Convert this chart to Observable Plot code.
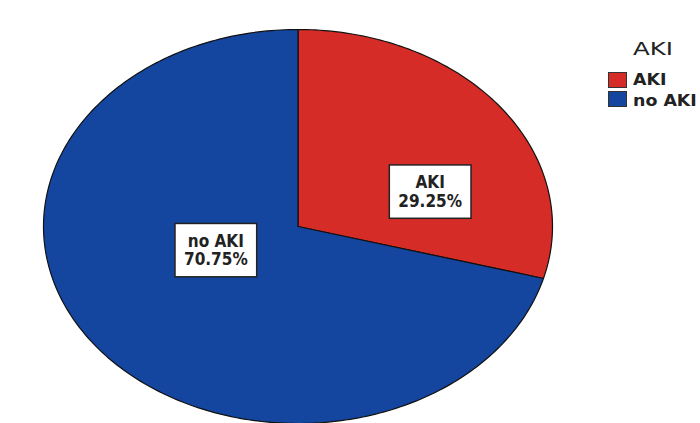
<!DOCTYPE html>
<html><head><meta charset="utf-8">
<script src="https://cdn.jsdelivr.net/npm/d3@7"></script>
<script src="https://cdn.jsdelivr.net/npm/@observablehq/plot@0.6"></script>
<style>
body{margin:0;background:#fff;}
#wrap{position:relative;width:700px;height:423px;overflow:hidden;background:#fff;}
.lg{position:absolute;font-family:"DejaVu Sans",sans-serif;color:#222;white-space:nowrap;transform-origin:left top;}
.lg.title{left:633px;top:40px;font-size:18px;line-height:18px;transform:scaleX(1.36);}
.lg.sw{left:608px;width:19px;height:16px;border:1px solid #333;box-sizing:border-box;}
.lg.lab{left:633px;font-size:15px;line-height:15px;font-weight:bold;transform:scaleX(1.16);}
</style></head><body><div id="wrap"></div>
<script>
const categories = ["AKI", "no AKI"];
const percents = [29.25, 70.75];
const colors = ["#d62c27", "#1446a0"];
const legendTitle = "AKI";

const arcs = d3.pie().sort(null).value(d => d)(percents);
const STEPS = 360;
const wedges = arcs.map((a, i) => {
  const n = Math.max(2, Math.ceil((a.endAngle - a.startAngle) / (2 * Math.PI) * STEPS));
  const pts = [{x: 0, y: 0}];
  for (let k = 0; k <= n; k++) {
    const t = a.startAngle + (a.endAngle - a.startAngle) * k / n;
    pts.push({x: Math.sin(t), y: Math.cos(t)});
  }
  pts.push({x: 0, y: 0});
  return pts;
});
const labelPts = arcs.map((a, i) => {
  const m = (a.startAngle + a.endAngle) / 2;
  return {x: 0.5 * Math.sin(m), y: 0.5 * Math.cos(m),
          text: categories[i] + "\n" + percents[i].toFixed(2) + "%"};
});
const labelShift = [[31, 25], [19, -36]];

const marks = [];
wedges.forEach((w, i) => {
  marks.push(Plot.line(w, {x: "x", y: "y", fill: colors[i], stroke: "#111", strokeWidth: 1.2, curve: "linear"}));
});
labelPts.forEach((p, i) => {
  marks.push(Plot.text([p], {x: "x", y: "y", text: "text", dx: labelShift[i][0], dy: labelShift[i][1],
    fontSize: 17, fontWeight: "bold", fill: "#222", lineHeight: 1.08,
    fontFamily: "DejaVu Sans Condensed"}));
});

const chart = Plot.plot({
  width: 700, height: 423,
  marginLeft: 43, marginRight: 148, marginTop: 29, marginBottom: 0,
  x: {domain: [-1, 1], axis: null},
  y: {domain: [-1, 1], axis: null},
  style: {background: "transparent"},
  marks
});
const wrap = document.getElementById("wrap");
wrap.appendChild(chart);

chart.querySelectorAll("text").forEach(t => {
  const b = t.getBBox();
  const padX = 9, padY = 7.5;
  const r = document.createElementNS("http://www.w3.org/2000/svg", "rect");
  r.setAttribute("x", b.x - padX); r.setAttribute("y", b.y - padY);
  r.setAttribute("width", b.width + 2 * padX); r.setAttribute("height", b.height + 2 * padY);
  r.setAttribute("fill", "#fff"); r.setAttribute("stroke", "#222"); r.setAttribute("stroke-width", 1.5);
  const tr = t.getAttribute("transform");
  if (tr) r.setAttribute("transform", tr);
  t.parentNode.insertBefore(r, t);
});

const swTop = [72, 91];
const labTop = [73, 94];
let html = `<div class="lg title">${legendTitle}</div>`;
categories.forEach((c, i) => {
  html += `<div class="lg sw" style="top:${swTop[i]}px;background:${colors[i]}"></div>`;
  html += `<div class="lg lab" style="top:${labTop[i]}px">${c}</div>`;
});
const lg = document.createElement("div");
lg.innerHTML = html;
wrap.appendChild(lg);
</script>
</body></html>
